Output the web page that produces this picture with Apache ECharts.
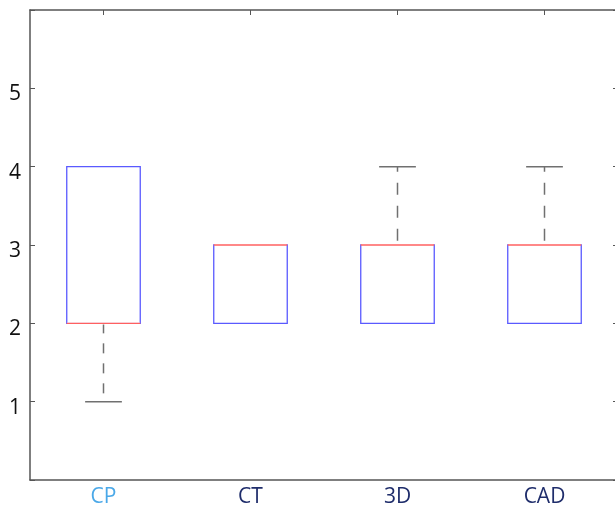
<!DOCTYPE html>
<html><head><meta charset="utf-8">
<script src="https://cdn.jsdelivr.net/npm/echarts@6/dist/echarts.min.js"></script>
<style>html,body{margin:0;padding:0;background:#fff}#c{width:615px;height:508px}</style>
</head><body><div id="c"></div>
<script>
const categories = ['CP', 'CT', '3D', 'CAD'];
const mins    = [1, 2, 2, 2];
const q1s     = [2, 2, 2, 2];
const medians = [2, 3, 3, 3];
const q3s     = [4, 3, 3, 3];
const maxs    = [4, 3, 4, 4];
const yTicks  = [1, 2, 3, 4, 5];

const data = categories.map((c, i) => [i, mins[i], q1s[i], medians[i], q3s[i], maxs[i]]);
const labelColors = ['#4aa8e8', '#1f2d6b', '#1f2d6b', '#1f2d6b'];
const axisColor = '#555555';

const chart = echarts.init(document.getElementById('c'), null, {renderer: 'canvas'});
chart.setOption({
  animation: false,
  grid: {left: 30, top: 10, width: 588, height: 470, show: false, outerBoundsMode: 'none', containLabel: false},
  xAxis: [{
    type: 'category', data: categories, boundaryGap: true, position: 'bottom',
    axisLine: {onZero: false, lineStyle: {color: axisColor, width: 1.5}},
    axisTick: {inside: true, alignWithLabel: true, length: 5, lineStyle: {color: axisColor}},
    axisLabel: {margin: 7, fontSize: 21, fontFamily: 'Open Sans',
      color: (v) => labelColors[categories.indexOf(v)]},
    splitLine: {show: false}
  }, {
    type: 'category', data: categories, boundaryGap: true, position: 'top',
    axisLine: {show: true, onZero: false, lineStyle: {color: axisColor, width: 1.5}},
    axisTick: {show: true, inside: true, alignWithLabel: true, length: 5, lineStyle: {color: axisColor}},
    axisLabel: {show: false}
  }],
  yAxis: [{
    type: 'value', min: 0, max: 6, interval: 1, position: 'left',
    axisLine: {show: true, onZero: false, lineStyle: {color: axisColor, width: 1.5}},
    axisTick: {show: true, inside: true, length: 5, lineStyle: {color: axisColor}},
    axisLabel: {margin: 9, color: '#111',
      formatter: (v) => yTicks.indexOf(v) >= 0 ? '{t|' + v + '}' : '',
      rich: {t: {fontSize: 21, fontFamily: 'Open Sans', color: '#111', padding: [12, 0, 0, 0]}}},
    splitLine: {show: false}
  }, {
    type: 'value', min: 0, max: 6, interval: 1, position: 'right',
    axisLine: {show: true, onZero: false, lineStyle: {color: axisColor, width: 1.5}},
    axisTick: {show: true, inside: true, length: 5, lineStyle: {color: axisColor}},
    axisLabel: {show: false},
    splitLine: {show: false}
  }],
  series: [{
    type: 'custom',
    xAxisIndex: 0, yAxisIndex: 0,
    data: data,
    renderItem: function (params, api) {
      const idx = api.value(0);
      const vmin = api.value(1), vq1 = api.value(2), vmed = api.value(3), vq3 = api.value(4), vmax = api.value(5);
      const bw = api.size([1, 0])[0] * 0.5;
      const cw = bw * 0.5;
      const cx = api.coord([idx, 0])[0];
      const yMin = api.coord([idx, vmin])[1];
      const yQ1 = api.coord([idx, vq1])[1];
      const yMed = api.coord([idx, vmed])[1];
      const yQ3 = api.coord([idx, vq3])[1];
      const yMax = api.coord([idx, vmax])[1];
      const capStyle = {stroke: '#707070', lineWidth: 1.5};
      const children = [];
      if (vmin < vq1) {
        children.push({type: 'line', shape: {x1: cx, y1: yQ1, x2: cx, y2: yMin},
          style: {stroke: '#707070', lineWidth: 1.5, lineDash: [10, 10], lineDashOffset: 0}});
        children.push({type: 'line', shape: {x1: cx - cw / 2, y1: yMin, x2: cx + cw / 2, y2: yMin}, style: capStyle});
      }
      if (vmax > vq3) {
        children.push({type: 'line', shape: {x1: cx, y1: yMax, x2: cx, y2: yQ3},
          style: {stroke: '#707070', lineWidth: 1.5, lineDash: [12, 11], lineDashOffset: 7}});
        children.push({type: 'line', shape: {x1: cx - cw / 2, y1: yMax, x2: cx + cw / 2, y2: yMax}, style: capStyle});
      }
      children.push({type: 'rect', shape: {x: cx - bw / 2, y: yQ3, width: bw, height: yQ1 - yQ3},
        style: {fill: 'none', stroke: '#5a5aff', lineWidth: 1.3}});
      children.push({type: 'line', shape: {x1: cx - bw / 2 + 0.7, y1: yMed, x2: cx + bw / 2 - 0.7, y2: yMed},
        style: {stroke: '#ffffff', lineWidth: 2.2}});
      children.push({type: 'line', shape: {x1: cx - bw / 2, y1: yMed, x2: cx + bw / 2, y2: yMed},
        style: {stroke: '#ff6060', lineWidth: 1.3}});
      return {type: 'group', children: children};
    }
  }]
});
</script></body></html>
